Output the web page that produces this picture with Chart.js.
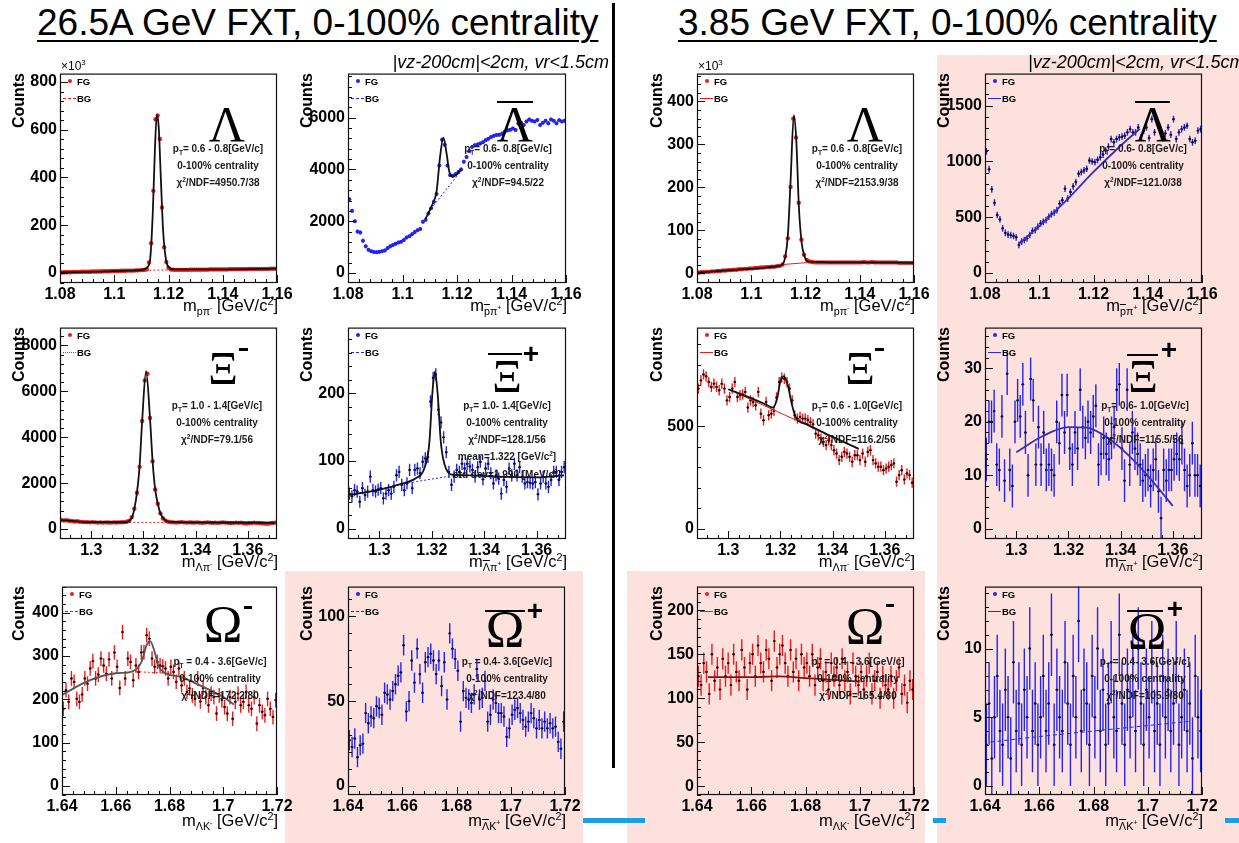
<!DOCTYPE html>
<html>
<head>
<meta charset="utf-8">
<title>FXT hyperon invariant mass</title>
<script src="https://cdn.jsdelivr.net/npm/chart.js@4.4.1/dist/chart.umd.min.js"></script>
<style>
body { margin:0; width:1239px; height:843px; position:relative; overflow:hidden; background:#fff; font-family:"Liberation Sans", Arial, sans-serif; color:#000; }
.abs { position:absolute; white-space:nowrap; line-height:1; }
canvas { position:absolute; }
sub, sup { line-height:0; font-size:65%; }
.pink { position:absolute; background:#fde1dd; }
.bar { position:absolute; background:#000; }
.title { text-decoration:underline; text-decoration-thickness:2px; text-underline-offset:5px; }
.cut { font-style:italic; }
.counts { position:absolute; writing-mode:vertical-rl; transform:rotate(180deg); font-weight:bold; font-size:16px; line-height:16px; white-space:nowrap; }
.stat { font-weight:bold; color:#1a1a1a; }
.sym { font-family:"Liberation Serif", "DejaVu Serif", serif; }
.plus { font-weight:bold; }
.leg { font-weight:bold; }
.ov { text-decoration:overline; }
</style>
</head>
<body>
<script>
//* Input data //*

// Lambda, 26.5A GeV (counts in units of 10^3), bin centres 1.08 + 0.0008*i
var lam26Counts = [2,2,3,3,3,3,4,4,4,4, 5,5,5,5,5,6,6,6,6,6, 7,7,7,7,8,8,8,8,9,9,
    9,10,10,10,10,11,11,12,12,13, 15,44,125,344,644,660,561,274,108,46,
    22,15,14,13,13,13,13,13,13,13, 14,14,14,14,14,14,14,14,14,15,
    15,15,15,15,15,15,15,15,16,16, 16,16,16,16,16,16,16,17,17,17, 17,17,17,17,17,17,17,18,18,18];
var lam26Fit = [[1.08,2],[1.095,6],[1.105,10],[1.110,12.5],[1.112,22],[1.1132,55],[1.1142,250],[1.1150,520],
    [1.1157,662],[1.1164,610],[1.1172,390],[1.1180,180],[1.1190,60],[1.1200,25],[1.122,15],[1.14,15],[1.16,18]];
var lam26Bg = [[1.110,11],[1.123,13]];

// anti-Lambda, 26.5A GeV, bin centres 1.0805 + 0.001*i
var alam26Counts = [2850,2400,2000,1600,1560,1250,1030,900,840,810, 800,820,840,870,960,1030,1080,1130,1180,1210,
    1280,1370,1420,1500,1580,1650,1700,1980,2060,2300, 2500,2750,3050,4150,5150,4950,4150,3780,3760,3820,
    3900,4000,4300,4480,4700,4870,4930,4960,5000,5050, 5130,5180,5250,5300,5330,5340,5380,5450,5510,5530,
    5580,5520,5770,5800,5720,5850,5930,5880,5850,5910, 5720,5800,5880,5780,5930,5880,5780,5900,5850,5880];
var alam26Fit = [[1.1085,2100],[1.111,2650],[1.1125,3150],[1.1138,4500],[1.1150,5230],[1.1162,4600],[1.1172,3900],
    [1.1185,3720],[1.1200,3820],[1.1215,4000]];
var alam26Bg = [[1.1095,2350],[1.1215,3950]];

// Lambda, 3.85 GeV (units of 10^3)
var lam385Counts = [1,2,2,3,3,4,4,5,5,6, 6,7,7,8,8,9,9,10,10,11, 11,12,12,13,13,14,14,15,15,16,
    17,20,39,81,201,360,316,164,78,43, 31,27,26,25,25,25,25,25,25,25, 25,25,25,25,25,25,25,25,25,25,
    25,26,25,25,26,25,25,25,25,25, 25,25,25,25,24,24,24,24,24,24];
var lam385Fit = [[1.08,1],[1.095,8],[1.105,13],[1.110,16.5],[1.1115,20],[1.1125,36],[1.1135,88],[1.1145,215],
    [1.1157,368],[1.1166,310],[1.1176,150],[1.1186,70],[1.1196,40],[1.121,27],[1.14,25],[1.16,24]];
var lam385Bg = [[1.1115,20],[1.1215,25]];

// anti-Lambda, 3.85 GeV
var alam385Counts = [1090,930,750,630,520,480,400,360,345,340, 332,320,252,282,296,311,341,379,385,415,
    445,459,474,504,528,542,563,622,652,756, 667,726,777,815,889,904,919,934,1008,999,
    993,1014,1037,1061,1097,1132,1200,1171,1200,1215, 1221,1230,1260,1289,1260,1260,1304,1215,1275,1304,
    1209,1378,1260,1363,1310,1209,1251,1304,1239,1378, 1200,1260,1289,1304,1319,1200,1171,1185,1275,1289];
var alam385Fit = [[1.0925,262],[1.10,420],[1.11,650],[1.12,905],[1.13,1140],[1.137,1290]];

// Xi-, 26.5A GeV, bin centres 1.2885 + 0.001*i
var xi26Counts = [390,370,380,360,350,330,340,320,310,300, 300,290,300,290,280,290,280,290,285,280,
    290,285,290,295,300,320,360,520,884,1579, 2710,4710,6477,6767,4840,2956,1724,1101,680,460, 360,320,
    300,290,280,290,300,290,280,290,285,280, 290,280,270,280,290,280,270,280,270,280,
    290,280,270,260,270,280,270,280,250,240, 260,270,280,270,260,250,240,230,250,260, 280];
var xi26Fit = [[1.2885,390],[1.300,300],[1.313,295],[1.3155,480],[1.3165,884],[1.3175,1579],[1.3185,2710],
    [1.3195,4710],[1.3210,6880],[1.3225,4840],[1.3235,2956],[1.3245,1724],[1.3255,1101],[1.3265,680],
    [1.3280,420],[1.3300,310],[1.345,285],[1.3705,265]];
var xi26Bg = [[1.313,292],[1.332,288]];

// anti-Xi+, 26.5A GeV
var axi26Counts = [52,48,57,55,40,60,50,55,77,57, 55,58,60,45,52,57,52,62,79,84, 65,57,67,87,60,87,89,82,99,104,
    106,188,223,228,176,157,135,113,84,65, 77,87,84,96,89,96,92,87,77,91, 99,73,89,96,82,67,79,74,52,72,
    62,89,79,96,79,91,77,67,69,68, 67,69,51,67,77,67,62,72,84,84, 72,84,91];
var axi26Fit = [[1.2885,50],[1.300,58],[1.308,66],[1.314,75],[1.317,88],[1.319,125],[1.3203,205],[1.3212,232],
    [1.3222,200],[1.3235,125],[1.3255,88],[1.328,80],[1.335,79],[1.345,77],[1.360,76],[1.3705,79]];
var axi26Bg = [[1.305,64],[1.332,81]];

// Xi-, 3.85 GeV
var xi385Counts = [683,723,752,743,715,691,707,691,675,707, 683,626,642,683,715,642,650,655,667,591,
    626,618,602,667,561,529,618,553,561,575, 640,715,736,731,715,683,626,553,537,545,
    537,537,530,520,510,464,456,440,424,408, 432,408,383,367,335,351,375,367,351,327,
    359,359,335,367,327,375,383,335,319,303, 303,286,294,303,311,319,230,262,286,241, 270,262,225];
var xi385Fit = [[1.300,680],[1.308,640],[1.314,608],[1.3172,590],[1.3188,640],[1.3200,720],[1.3213,742],
    [1.3228,700],[1.3243,610],[1.3258,545],[1.330,510],[1.340,448],[1.350,390]];
var xi385Bg = [[1.300,680],[1.350,390]];

// anti-Xi+, 3.85 GeV
var axi385Counts = [13,20,20,22,12,11,21,9,29, 11,8,20,24,21,27,18,10,28,24, 12,19,12,18,11,12,11,10,20,
    16,25,18,25,15,12,18,15,26,19, 17,20,18,21,23,12,14,17,14, 13,17,19,26,27,15,9,26,12,18,
    15,14,12,9,10,11,8,11,13, 7,2,11,9,11,11,13,14,13, 16,11,8,10,16,10,10,8];
var axi385Fit = [[1.300,14.3],[1.310,17.3],[1.320,19.0],[1.327,18.9],[1.335,17.0],[1.345,12.8],[1.352,9.0],[1.360,4.3]];

// Omega-, 26.5A GeV, bin centres 1.6405 + 0.001*i
var om26Counts = [178,221,194,248,240,201,194,211,248,236, 271,288,248,257,294,278,259,292,248,308,
    275,226,355,248,294,286,244,278,263,308, 309,348,340,294,275,286,278,276,271,248,
    275,263,240,271,232,248,217,225,209,201, 248,195,226,205,186,213,205,167,209,198,
    182,167,205,155,194,213,186,194,217,186, 178,205,144,186,171,163,201,178,159,198];
var om26Fit = [[1.640,210],[1.650,243],[1.660,260],[1.666,264],[1.6695,285],[1.6715,325],[1.6728,334],
    [1.6742,315],[1.6760,275],[1.678,262],[1.685,250],[1.690,236],[1.700,205],[1.704,188]];
var om26Bg = [[1.666,264],[1.680,260]];

// anti-Omega+, 26.5A GeV
var aom26Counts = [27,23,28,17,24,25,43,37,41,40, 47,46,42,55,54,51,56,60,65,67, 83,44,50,74,61,81,66,55,73,76,
    78,74,66,74,59,73,51,90,81,75, 68,38,56,52,51,49,54,69,51,52, 62,38,42,51,49,43,43,41,29,34,
    42,45,46,43,39,35,38,43,40,34, 39,34,38,34,37,34,35,26,22,38];

// Omega-, 3.85 GeV
var om385Counts = [125,115,140,130,105,150,120,135,110,145, 125,140,115,150,130,120,155,135,110,140,
    150,125,160,140,130,155,145,120,165,135, 150,160,140,125,155,130,145,120,150,135,
    140,125,150,115,135,145,120,130,110,140, 125,135,115,145,120,130,105,140,125,115,
    130,110,125,140,105,120,130,100,125,115, 110,125,100,120,135,105,115,95,120,110];
var om385Fit = [[1.644,124],[1.660,124],[1.670,125],[1.680,123],[1.690,121],[1.700,119]];

// anti-Omega+, 3.85 GeV
var aom385Counts = [3,6,2,5,8,4,3,7,5,2, 9,4,6,3,7,5,10,4,6,3, 5,8,4,6,11,3,7,5,4,9, 6,3,8,5,12,4,7,6,3,8,
    5,10,4,7,3,6,9,5,4,11, 6,3,7,5,8,4,10,6,3,7, 5,9,4,6,3,8,5,7,4,6, 9,3,5,7,4,6,2,8,5,4];
var aom385Bg = [[1.642,3.2],[1.660,3.6],[1.680,4.0],[1.700,4.4],[1.715,4.7]];

// Tick labels
var lamTicks = [1.08, 1.1, 1.12, 1.14, 1.16];
var xiTicks = [1.3, 1.32, 1.34, 1.36];
var omTicks = [1.64, 1.66, 1.68, 1.7, 1.72];

var red = '#ee1b1b';
var blue = '#2424ee';

//* Panel layout and styles //*

var panels = [
  {L:60, T:73, W:217, H:210, x:[1.08,1.16], xt:lamTicks, y:[-42,835], yt:[0,200,400,600,800], ym:40,
   first:1.08, w:0.0008, counts:lam26Counts, err:0, fit:lam26Fit, bg:lam26Bg, col:red, dot:2.2, dotCol:red,
   fitCol:'#111', bgDash:[2,2], leg:'dashed'},
  {L:348, T:73, W:218, H:210, x:[1.08,1.16], xt:lamTicks, y:[-385,7700], yt:[0,2000,4000,6000], ym:400,
   first:1.0805, w:0.001, counts:alam26Counts, err:70, fit:alam26Fit, bg:alam26Bg, col:blue, dot:2, dotCol:blue,
   fitCol:'#111', bgDash:[2,2], leg:'dashed'},
  {L:697, T:73, W:217, H:210, x:[1.08,1.16], xt:lamTicks, y:[-23,465], yt:[0,100,200,300,400], ym:20,
   first:1.0805, w:0.001, counts:lam385Counts, err:0, fit:lam385Fit, bg:lam385Bg, col:red, dot:2.2, dotCol:red,
   fitCol:'#111', bgDash:[], leg:'solid'},
  {L:985, T:73, W:217, H:210, x:[1.08,1.16], xt:lamTicks, y:[-89,1786], yt:[0,500,1000,1500], ym:100,
   first:1.0805, w:0.001, counts:alam385Counts, err:30, fit:alam385Fit, bg:null, col:blue, dot:1.2, dotCol:'#111',
   fitCol:'#3a2cc0', bgDash:[], leg:'solid'},

  {L:60, T:327, W:217, H:212, x:[1.288,1.3712], xt:xiTicks, y:[-435,8780], yt:[0,2000,4000,6000,8000], ym:400,
   first:1.2885, w:0.001, counts:xi26Counts, err:0, fit:xi26Fit, bg:xi26Bg, col:red, dot:2.2, dotCol:red,
   fitCol:'#111', bgDash:[2,2], leg:'dotted'},
  {L:348, T:327, W:218, H:212, x:[1.288,1.3712], xt:xiTicks, y:[-15,297], yt:[0,100,200], ym:20,
   first:1.2885, w:0.001, counts:axi26Counts, err:9, fit:axi26Fit, bg:axi26Bg, col:blue, dot:1.2, dotCol:'#111',
   fitCol:'#111', bgDash:[2,2], leg:'dashed'},
  {L:697, T:327, W:217, H:212, x:[1.288,1.3712], xt:xiTicks, y:[-49,980], yt:[0,500], ym:100,
   first:1.2885, w:0.001, counts:xi385Counts, err:25, fit:xi385Fit, bg:xi385Bg, col:red, dot:1.2, dotCol:'#111',
   fitCol:'#111', bgDash:[], leg:'solid'},
  {L:985, T:327, W:217, H:212, x:[1.288,1.3712], xt:xiTicks, y:[-1.9,37.6], yt:[0,10,20,30], ym:2,
   first:1.2885, w:0.001, counts:axi385Counts, err:4, fit:axi385Fit, bg:null, col:blue, dot:1.2, dotCol:'#111',
   fitCol:'#3a2cc0', bgDash:[], leg:'solid'},

  {L:62, T:586, W:215, H:209, x:[1.64,1.72], xt:omTicks, y:[-21,460], yt:[0,100,200,300,400], ym:20,
   first:1.6405, w:0.001, counts:om26Counts, err:17, fit:om26Fit, bg:om26Bg, col:red, dot:1.2, dotCol:'#111',
   fitCol:'#555', bgDash:[2,2], leg:'dashed'},
  {L:348, T:586, W:217, H:209, x:[1.64,1.72], xt:omTicks, y:[-5.3,117.6], yt:[0,50,100], ym:10,
   first:1.6405, w:0.001, counts:aom26Counts, err:6, fit:null, bg:null, col:blue, dot:1.2, dotCol:'#111',
   fitCol:'#111', bgDash:[], leg:'dashed'},
  {L:697, T:586, W:217, H:209, x:[1.64,1.72], xt:omTicks, y:[-10,227], yt:[0,50,100,150,200], ym:10,
   first:1.6405, w:0.001, counts:om385Counts, err:12, fit:om385Fit, bg:null, col:red, dot:1.2, dotCol:'#111',
   fitCol:'#8a1010', bgDash:[], leg:'solid'},
  {L:985, T:586, W:217, H:209, x:[1.64,1.72], xt:omTicks, y:[-0.65,14.5], yt:[0,5,10], ym:1,
   first:1.6405, w:0.001, counts:aom385Counts, err:3, fit:null, bg:aom385Bg, col:blue, dot:1.2, dotCol:'#111',
   fitCol:'#111', bgDash:[4,3], leg:'solid'}
];

//* Helpers //*

function put(html, x, base, size, align, cls) {
    // Place text with its baseline at 'base'; align 0 left, 0.5 centre, 1 right.
    var d = document.createElement('div');
    d.className = 'abs ' + (cls || '');
    d.innerHTML = html;
    d.style.left = x + 'px';
    d.style.top = (base - 0.85 * size) + 'px';
    d.style.fontSize = size + 'px';
    d.style.transform = 'translateX(' + (-align * 100) + '%)';
    document.body.appendChild(d);
    return d;
}

function box(cls, x, y, w, h, colour) {
    var d = document.createElement('div');
    d.className = cls;
    d.style.left = x + 'px'; d.style.top = y + 'px';
    d.style.width = w + 'px'; d.style.height = h + 'px';
    if (colour) d.style.background = colour;
    document.body.appendChild(d);
    return d;
}

function drawAxisTicks(ctx, scale, major, step, horizontal, a) {
    // ROOT style ticks, pointing into the frame.
    var lo = Math.ceil(scale.min / step - 1e-6), hi = Math.floor(scale.max / step + 1e-6);
    ctx.beginPath();
    for (var k = lo; k <= hi; k++) {
        var v = k * step;
        var isMajor = major.some(function(m){ return Math.abs(m - v) < step / 10; });
        var len = isMajor ? 8 : 4;
        var p = Math.round(scale.getPixelForValue(v)) + 0.5;
        if (horizontal) { ctx.moveTo(p, a.bottom); ctx.lineTo(p, a.bottom - len); }
        else { ctx.moveTo(a.left, p); ctx.lineTo(a.left + len, p); }
    }
    ctx.stroke();
}

var rootStyle = {
    id: 'rootStyle',
    beforeDatasetsDraw: function(chart) {
        // Error bars and bin widths of the histogram points.
        var ctx = chart.ctx, a = chart.chartArea, xs = chart.scales.x, ys = chart.scales.y;
        ctx.save();
        ctx.beginPath(); ctx.rect(a.left, a.top, a.right - a.left, a.bottom - a.top); ctx.clip();
        chart.data.datasets.forEach(function(ds) {
            if (ds.binW === undefined) return;
            ctx.strokeStyle = ds.barColour;
            ctx.lineWidth = 1.4;
            ds.data.forEach(function(p) {
                var px = xs.getPixelForValue(p.x), py = ys.getPixelForValue(p.y);
                ctx.beginPath();
                ctx.moveTo(xs.getPixelForValue(p.x - ds.binW / 2), py);
                ctx.lineTo(xs.getPixelForValue(p.x + ds.binW / 2), py);
                if (ds.errY > 0) {
                    ctx.moveTo(px, ys.getPixelForValue(p.y - ds.errY));
                    ctx.lineTo(px, ys.getPixelForValue(p.y + ds.errY));
                }
                ctx.stroke();
            });
        });
        ctx.restore();
    },
    afterDraw: function(chart) {
        // Frame and inward ticks.
        var ctx = chart.ctx, a = chart.chartArea, p = chart.options.panel;
        ctx.save();
        ctx.strokeStyle = '#111';
        ctx.lineWidth = 1.2;
        ctx.strokeRect(a.left + 0.5, a.top + 0.5, a.right - a.left - 1, a.bottom - a.top - 1);
        ctx.lineWidth = 1;
        drawAxisTicks(ctx, chart.scales.x, p.xt, 0.004, true, a);
        drawAxisTicks(ctx, chart.scales.y, p.yt, p.ym, false, a);
        ctx.restore();
    }
};

function makePanel(p) {
    var cv = document.createElement('canvas');
    cv.width = 60 + p.W + 22;
    cv.height = 12 + p.H + 28;
    cv.style.left = (p.L - 60) + 'px';
    cv.style.top = (p.T - 12) + 'px';
    document.body.appendChild(cv);

    var pts = p.counts.map(function(v, i){ return {x: p.first + p.w * i, y: v}; });
    var datasets = [{
        type: 'scatter', data: pts, pointRadius: p.dot, pointBackgroundColor: p.dotCol,
        pointBorderWidth: 0, errY: p.err, binW: p.w, barColour: p.col, order: 2
    }];
    if (p.bg) {
        datasets.push({type: 'line', data: p.bg.map(function(q){ return {x: q[0], y: q[1]}; }),
            borderColor: p.col, borderWidth: 1, borderDash: p.bgDash, pointRadius: 0, fill: false,
            cubicInterpolationMode: 'monotone', order: 1});
    }
    if (p.fit) {
        datasets.push({type: 'line', data: p.fit.map(function(q){ return {x: q[0], y: q[1]}; }),
            borderColor: p.fitCol, borderWidth: 1.8, pointRadius: 0, fill: false,
            cubicInterpolationMode: 'monotone', order: 0});
    }
    var tickFont = {family: '"Liberation Sans", Arial, sans-serif', size: 16, weight: 'bold'};

    return new Chart(cv.getContext('2d'), {
        type: 'scatter',
        data: {datasets: datasets},
        options: {
            panel: p,
            responsive: false, animation: false, events: [], devicePixelRatio: 1,
            layout: {autoPadding: false, padding: {left: 0, top: 12, right: 22, bottom: 0}},
            plugins: {legend: {display: false}, tooltip: {enabled: false}},
            scales: {
                x: {type: 'linear', min: p.x[0], max: p.x[1],
                    grid: {display: false, drawTicks: false}, border: {display: false},
                    ticks: {font: tickFont, color: '#000', padding: 2, maxRotation: 0, autoSkip: false,
                            callback: function(v){ return String(+v.toFixed(3)); }},
                    afterBuildTicks: function(s){ s.ticks = p.xt.map(function(v){ return {value: v}; }); },
                    afterFit: function(s){ s.height = 28; }},
                y: {type: 'linear', min: p.y[0], max: p.y[1],
                    grid: {display: false, drawTicks: false}, border: {display: false},
                    ticks: {font: tickFont, color: '#000', padding: 3, autoSkip: false,
                            callback: function(v){ return String(v); }},
                    afterBuildTicks: function(s){ s.ticks = p.yt.map(function(v){ return {value: v}; }); },
                    afterFit: function(s){ s.width = 60; }}
            }
        },
        plugins: [rootStyle]
    });
}

//* Backgrounds //*

box('pink', 937, 55, 302, 788);
box('pink', 285, 571, 298, 272);
box('pink', 627, 571, 298, 272);

//* Charts //*

panels.forEach(makePanel);

//* Decoration and text //*

box('bar', 612, 3, 3, 765);
box('bar', 583, 818, 62, 5, '#1d9de2');
box('bar', 933, 818, 13, 5, '#1d9de2');
box('bar', 1225, 818, 14, 5, '#1d9de2');

put('26.5A GeV FXT, 0-100% centrality', 37, 35, 37, 0, 'title');
put('3.85 GeV FXT, 0-100% centrality', 678, 35, 37, 0, 'title');
put('|vz-200cm|&lt;2cm, vr&lt;1.5cm', 609, 68, 18, 1, 'cut');
put('|vz-200cm|&lt;2cm, vr&lt;1.5cm', 1028, 68, 18, 0, 'cut');
put('×10<sup>3</sup>', 61, 70, 12, 0, '');
put('×10<sup>3</sup>', 698, 70, 12, 0, '');

// "Counts" titles, right-aligned to the frame top
var countsX = [19, 307, 657, 944];
panels.forEach(function(p, i) {
    var d = document.createElement('div');
    d.className = 'counts';
    d.textContent = 'Counts';
    d.style.left = (countsX[i % 4] - 8) + 'px';
    d.style.top = p.T + 'px';
    document.body.appendChild(d);
});

// Mass axis titles
var massNames = ['pπ<sup>-</sup>', '<span class="ov">p</span>π<sup>+</sup>', 'Λπ<sup>-</sup>', '<span class="ov">Λ</span>π<sup>+</sup>',
                 'ΛK<sup>-</sup>', '<span class="ov">Λ</span>K<sup>+</sup>'];
var titleBase = [311, 567, 826];
panels.forEach(function(p, i) {
    var r = Math.floor(i / 4), anti = (i % 2);
    put('m<sub>' + massNames[r * 2 + anti] + '</sub> [GeV/c<sup>2</sup>]', p.L + p.W + 1, titleBase[r], 16.5, 1, '');
});

// Legends
panels.forEach(function(p) {
    var dot = box('abs', p.L + 8, p.T + 6, 4, 4, p.col);
    dot.style.borderRadius = '50%';
    put('FG', p.L + 17, p.T + 12, 9.5, 0, 'leg');
    var ln = box('abs', p.L + 3, p.T + 25, 13, 0);
    ln.style.borderTop = '1px ' + p.leg + ' ' + p.col;
    put('BG', p.L + 17, p.T + 29, 9.5, 0, 'leg');
});

// Particle symbols
var symRow = [{ch:'Λ', size:50, base:[141,141,141,141], cx:[227,515,865,1153]},
              {ch:'Ξ', size:46, base:[385,393,385,393], cx:[223,507,860,1143]},
              {ch:'Ω', size:52, base:[643,648,645,650], cx:[223,505,865,1147]}];
symRow.forEach(function(s) {
    for (var c = 0; c < 4; c++) put(s.ch, s.cx[c], s.base[c], s.size, 0.5, 'sym');
});
box('bar', 497, 101, 36, 2); box('bar', 1135, 101, 35, 2);
box('bar', 488, 353, 34, 2); box('bar', 1127, 354, 31, 2);
box('bar', 485, 610, 40, 2); box('bar', 1127, 610, 36, 2);
box('bar', 239, 348, 9, 3); box('bar', 875, 348, 9, 3);
box('bar', 244, 606, 8, 3); box('bar', 886, 604, 8, 3);
put('+', 531, 364, 28, 0.5, 'plus'); put('+', 1169, 360, 28, 0.5, 'plus');
put('+', 535, 621, 28, 0.5, 'plus'); put('+', 1175, 619, 28, 0.5, 'plus');

// Fit information
var statText = [
  ['p<sub>T</sub>= 0.6 - 0.8[GeV/c]', '0-100% centrality', 'χ<sup>2</sup>/NDF=4950.7/38'],
  ['p<sub>T</sub>= 0.6- 0.8[GeV/c]', '0-100% centrality', 'χ<sup>2</sup>/NDF=94.5/22'],
  ['p<sub>T</sub>= 0.6 - 0.8[GeV/c]', '0-100% centrality', 'χ<sup>2</sup>/NDF=2153.9/38'],
  ['p<sub>T</sub>= 0.6- 0.8[GeV/c]', '0-100% centrality', 'χ<sup>2</sup>/NDF=121.0/38'],
  ['p<sub>T</sub>= 1.0 - 1.4[GeV/c]', '0-100% centrality', 'χ<sup>2</sup>/NDF=79.1/56'],
  ['p<sub>T</sub>= 1.0- 1.4[GeV/c]', '0-100% centrality', 'χ<sup>2</sup>/NDF=128.1/56', 'mean=1.322 [GeV/c<sup>2</sup>]', 'std dev=1.990 [MeV/c<sup>2</sup>]'],
  ['p<sub>T</sub>= 0.6 - 1.0[GeV/c]', '0-100% centrality', 'χ<sup>2</sup>/NDF=116.2/56'],
  ['p<sub>T</sub>= 0.6- 1.0[GeV/c]', '0-100% centrality', 'χ<sup>2</sup>/NDF=115.5/56'],
  ['p<sub>T</sub> = 0.4 - 3.6[GeV/c]', '0-100% centrality', 'χ<sup>2</sup>/NDF=172.2/80'],
  ['p<sub>T</sub> = 0.4- 3.6[GeV/c]', '0-100% centrality', 'χ<sup>2</sup>/NDF=123.4/80'],
  ['p<sub>T</sub> = 0.4 - 3.6[GeV/c]', '0-100% centrality', 'χ<sup>2</sup>/NDF=165.4/80'],
  ['p<sub>T</sub> = 0.4- 3.6[GeV/c]', '0-100% centrality', 'χ<sup>2</sup>/NDF=105.9/80']
];
var statX = [218, 508, 857, 1143, 217, 507, 857, 1145, 220, 507, 858, 1145];
var statBase = [152, 409, 665];
statText.forEach(function(lines, i) {
    var r = Math.floor(i / 4);
    lines.forEach(function(t, k) { put(t, statX[i], statBase[r] + k * 17.3, 10, 0.5, 'stat'); });
});
</script>
</body>
</html>
